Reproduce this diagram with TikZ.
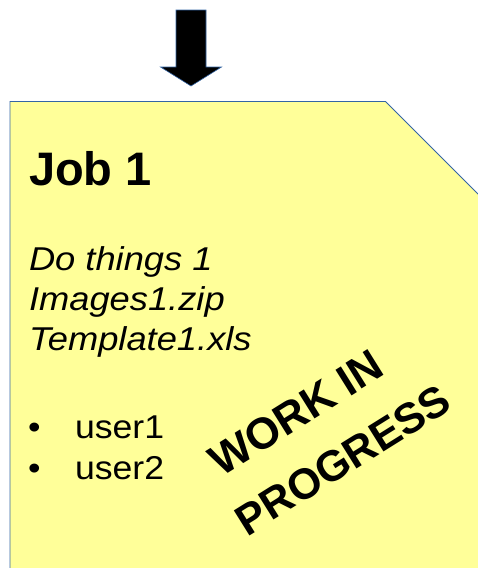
\documentclass[tikz,border=0pt]{standalone}
\usepackage{fontspec}
\setmainfont{Liberation Sans}
\newfontfamily\wideitalic{Liberation Sans Italic}[FakeStretch=1.1]
\newfontfamily\wideplain{Liberation Sans}[FakeStretch=1.08]
\definecolor{notefill}{HTML}{FFFF99}
\definecolor{noteline}{HTML}{3465A4}
\begin{document}
\begin{tikzpicture}[x=1pt,y=-1pt,
  txt/.style={anchor=base west,inner sep=0pt,outer sep=0pt},
  ital/.style={txt,font=\fontsize{33}{40}\selectfont\wideitalic},
  plain/.style={txt,font=\fontsize{33}{40}\selectfont\wideplain},
  stamp/.style={inner sep=0pt,rotate=32,font=\fontsize{43}{50}\selectfont\bfseries},
  note/.style={fill=notefill,draw=noteline,line width=0.8pt},
  bigarrow/.style={fill=black,draw=noteline,line width=0.6pt}]
\useasboundingbox (0,0) rectangle (478,568);
% note shape
\path[note] (10,580) -- (10,101.5) -- (385.5,101.5) -- (500,216) -- (500,580) -- cycle;
% arrow
\path[bigarrow] (176,10) -- (206,10) -- (206,67) -- (221.5,67) -- (191,86) -- (160.5,67) -- (176,67) -- cycle;
\node[txt,font=\fontsize{47}{50}\selectfont\bfseries] (job) at (29,185) {Job 1};
\node[ital] (l1) at (29,270) {Do things 1};
\node[ital] (l2) at (29,310) {Images1.zip};
\node[ital] (l3) at (29,350) {Template1.xls};
\node[plain] (b1) at (28,438) {\textbullet};
\node[plain] (u1) at (75,438) {user1};
\node[plain] (b2) at (28,479) {\textbullet};
\node[plain] (u2) at (75,479) {user2};
\node[stamp,font=\fontsize{44}{50}\selectfont\bfseries] (wip1) at (296,413) {WORK IN};
\node[stamp] (wip2) at (343,460) {PROGRESS};
\end{tikzpicture}
\end{document}
